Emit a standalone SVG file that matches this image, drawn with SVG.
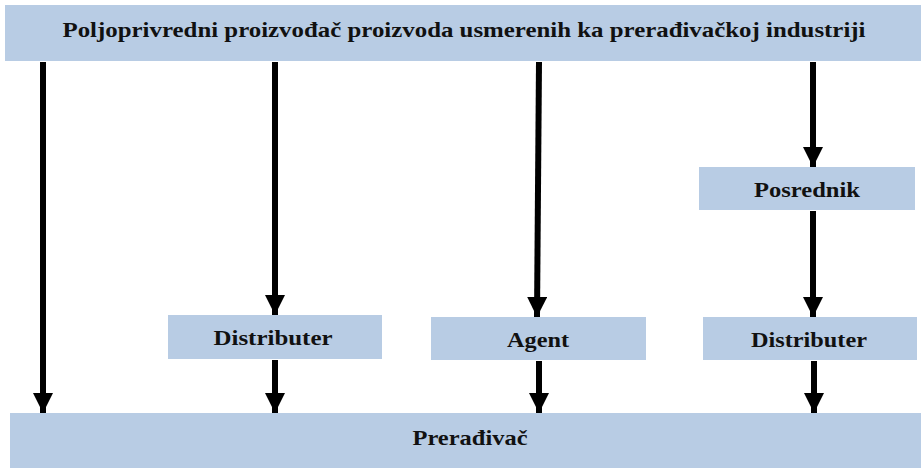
<svg xmlns="http://www.w3.org/2000/svg" width="921" height="468" viewBox="0 0 921 468">
<style>
.box{fill:#b8cce4;}
.lbl{font-family:'Liberation Serif','Times New Roman',serif;font-weight:700;font-size:22px;fill:#111;text-anchor:middle;}
.arr{stroke:#000;stroke-width:6;fill:none;marker-end:url(#ah);}
</style>
<defs>
<marker id="ah" markerUnits="userSpaceOnUse" markerWidth="20" markerHeight="20" refX="20" refY="10" orient="auto" viewBox="0 0 20 20">
<path d="M0,0 L20,10 L0,20 Z" fill="#000"/>
</marker>
</defs>
<g id="producer">
<rect class="box" x="5" y="5" width="916" height="56"/>
<text class="lbl" x="464" y="37" textLength="803" lengthAdjust="spacingAndGlyphs">Poljoprivredni proizvođač proizvoda usmerenih ka prerađivačkoj industriji</text>
</g>
<g id="posrednik">
<rect class="box" x="699" y="167" width="216" height="43"/>
<text class="lbl" x="807" y="197" textLength="106" lengthAdjust="spacingAndGlyphs">Posrednik</text>
</g>
<g id="distributer1">
<rect class="box" x="168" y="315" width="214" height="44"/>
<text class="lbl" x="273" y="345" textLength="119" lengthAdjust="spacingAndGlyphs">Distributer</text>
</g>
<g id="agent">
<rect class="box" x="431" y="317" width="215" height="43"/>
<text class="lbl" x="538" y="347" textLength="62" lengthAdjust="spacingAndGlyphs">Agent</text>
</g>
<g id="distributer2">
<rect class="box" x="703" y="317" width="214" height="43"/>
<text class="lbl" x="809" y="347" textLength="116" lengthAdjust="spacingAndGlyphs">Distributer</text>
</g>
<g id="preradjivac">
<rect class="box" x="10" y="413" width="911" height="55"/>
<text class="lbl" x="470" y="445" textLength="115" lengthAdjust="spacingAndGlyphs">Prerađivač</text>
</g>
<g id="connectors">
<line class="arr" x1="43" y1="62" x2="43" y2="413"/>
<line class="arr" x1="275" y1="62" x2="275" y2="315"/>
<line class="arr" x1="539" y1="62" x2="537" y2="317"/>
<line class="arr" x1="813" y1="62" x2="813" y2="167"/>
<line class="arr" x1="813" y1="211" x2="813" y2="317"/>
<line class="arr" x1="275" y1="360" x2="275" y2="413"/>
<line class="arr" x1="539" y1="361" x2="539" y2="413"/>
<line class="arr" x1="814" y1="361" x2="814" y2="413"/>
</g>
</svg>
